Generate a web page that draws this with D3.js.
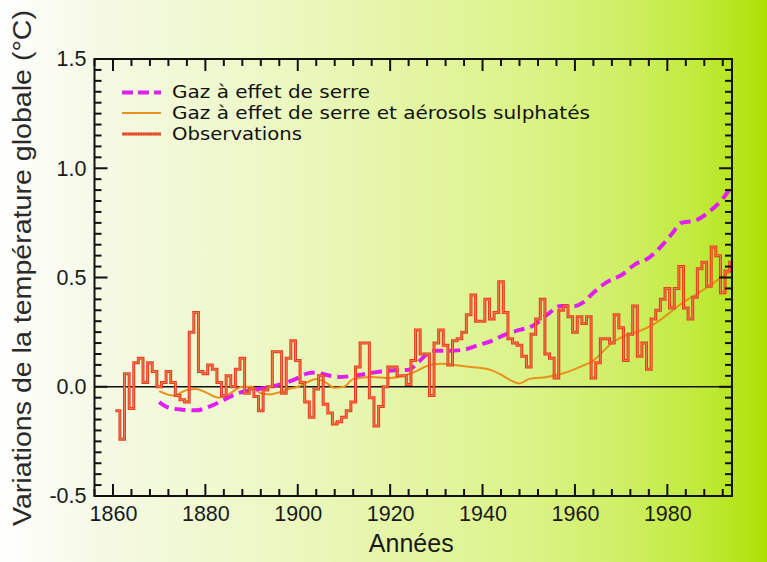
<!DOCTYPE html>
<html>
<head>
<meta charset="utf-8">
<script src="https://cdn.jsdelivr.net/npm/d3@7"></script>
<style>
  html, body { margin: 0; padding: 0; background: #ffffff; }
  svg { display: block; }
</style>
</head>
<body>
<svg id="chart" width="767" height="562"></svg>
<script>
// Global temperature change since 1861: observed annual anomalies and two model runs.

// Observed annual anomalies (°C), one value per year from 1861 to 1994
const obsYears = d3.range(1861, 1995);
const obsValues = [
  -0.11, -0.24, 0.06, -0.10, 0.11, 0.13, 0.02, 0.11, 0.07, 0.00,   // 1861-1870
   0.02, 0.07, 0.02, -0.04, -0.06, -0.07, 0.25, 0.34, 0.07, 0.06,  // 1871-1880
   0.10, 0.08, 0.02, -0.04, 0.05, 0.00, 0.08, 0.13, -0.03, -0.01,  // 1881-1890
  -0.045, -0.11, -0.015, 0.00, 0.16, 0.16, -0.03, 0.13, 0.21, 0.12, // 1891-1900
   0.02, -0.07, -0.14, -0.01, 0.05, -0.08, -0.12, -0.17, -0.16, -0.14, // 1901-1910
  -0.11, -0.07, 0.09, 0.20, 0.20, -0.05, -0.18, -0.09, 0.00, 0.09, // 1911-1920
   0.09, 0.05, 0.05, 0.01, 0.12, 0.26, 0.15, 0.15, -0.04, 0.20,    // 1921-1930
   0.26, 0.19, 0.10, 0.21, 0.22, 0.25, 0.33, 0.42, 0.30, 0.30,     // 1931-1940
   0.40, 0.31, 0.34, 0.48, 0.34, 0.22, 0.20, 0.19, 0.14, 0.09,     // 1941-1950
   0.24, 0.31, 0.40, 0.15, 0.13, 0.04, 0.35, 0.37, 0.32, 0.25,     // 1951-1960
   0.32, 0.29, 0.32, 0.04, 0.11, 0.22, 0.22, 0.20, 0.33, 0.27,     // 1961-1970
   0.12, 0.24, 0.37, 0.14, 0.20, 0.08, 0.31, 0.35, 0.40, 0.45,     // 1971-1980
   0.36, 0.45, 0.55, 0.36, 0.31, 0.41, 0.54, 0.57, 0.46, 0.64,     // 1981-1990
   0.60, 0.43, 0.53, 0.57                                          // 1991-1994
];

// Model: greenhouse gases only
const ghgYears  = [1870, 1872, 1875, 1878, 1881, 1884, 1887, 1890, 1893, 1896, 1899, 1902, 1904, 1906, 1909,
                   1912, 1915, 1918, 1921, 1924, 1926, 1928, 1930, 1933, 1936, 1939, 1942, 1945, 1948, 1951,
                   1954, 1957, 1960, 1962, 1964, 1967, 1970, 1973, 1976, 1979, 1981, 1983, 1986, 1989, 1992, 1994];
const ghgValues = [-0.07, -0.095, -0.105, -0.108, -0.09, -0.06, -0.03, -0.015, -0.005, 0.01, 0.03, 0.06, 0.065, 0.055, 0.045,
                   0.05, 0.06, 0.07, 0.075, 0.078, 0.11, 0.15, 0.165, 0.165, 0.17, 0.19, 0.21, 0.24, 0.26, 0.28,
                   0.33, 0.37, 0.37, 0.39, 0.43, 0.48, 0.51, 0.56, 0.59, 0.65, 0.70, 0.75, 0.76, 0.80, 0.86, 0.92];

// Model: greenhouse gases and sulphate aerosols
const aerYears  = [1870, 1873, 1876, 1878, 1880, 1883, 1885, 1888, 1890, 1892, 1894, 1896, 1898, 1900, 1902,
                   1904, 1906, 1908, 1910, 1912, 1916, 1920, 1923, 1925, 1928, 1931, 1934, 1937, 1940, 1942,
                   1944, 1946, 1948, 1950, 1954, 1958, 1961, 1964, 1966, 1968, 1971, 1974, 1977, 1980, 1983,
                   1986, 1989, 1991, 1994];
const aerValues = [-0.02, -0.04, -0.015, -0.01, -0.025, -0.05, -0.035, 0.0, 0.0, -0.03, -0.035, -0.025, -0.01, 0.0, 0.02,
                   0.035, 0.02, -0.005, 0.0, 0.035, 0.045, 0.04, 0.05, 0.065, 0.095, 0.105, 0.10, 0.092, 0.085, 0.075,
                   0.055, 0.03, 0.015, 0.035, 0.045, 0.065, 0.09, 0.12, 0.16, 0.20, 0.235, 0.255, 0.285, 0.33, 0.38,
                   0.42, 0.46, 0.49, 0.53];

// Axis ticks and labels
const xMajorTicks = [1860, 1880, 1900, 1920, 1940, 1960, 1980];
const xMinorTicks = [1856, 1864, 1868, 1872, 1876, 1884, 1888, 1892, 1896, 1904, 1908, 1912, 1916,
                     1924, 1928, 1932, 1936, 1944, 1948, 1952, 1956, 1964, 1968, 1972, 1976, 1984, 1988, 1992];
const yMajorTicks = [-0.5, 0.0, 0.5, 1.0, 1.5];
const yMinorTicks = [-0.45, -0.4, -0.35, -0.3, -0.25, -0.2, -0.15, -0.1, -0.05,
                     0.05, 0.1, 0.15, 0.2, 0.25, 0.3, 0.35, 0.4, 0.45,
                     0.55, 0.6, 0.65, 0.7, 0.75, 0.8, 0.85, 0.9, 0.95,
                     1.05, 1.1, 1.15, 1.2, 1.25, 1.3, 1.35, 1.4, 1.45];

const legendLabels = ["Gaz à effet de serre", "Gaz à effet de serre et aérosols sulphatés", "Observations"];
const xTitle = "Années";
const yTitle = "Variations de la température globale (°C)";

const colors = { ghg: "#e01ef2", aer: "#e8921c", obs: "#e63c1c", obsInner: "#f59a6c" };

// ---------------------------------------------------------------------
const W = 767, H = 562;
const P = { left: 94.5, right: 732, top: 59, bottom: 496 };

const svg = d3.select("#chart");
const defs = svg.append("defs");

// Pale-to-lime backdrop
const grad = defs.append("linearGradient").attr("id", "bg").attr("x1", 0).attr("x2", 1).attr("y1", 0).attr("y2", 0);
[[0, "#ffffff"], [0.13, "#f5f9e5"], [0.33, "#eef8c8"], [0.52, "#e4f5a6"], [0.68, "#dcf38a"],
 [0.81, "#cfef66"], [0.91, "#c1ea3c"], [0.97, "#b4e418"], [1, "#addf00"]]
  .forEach(([o, c]) => grad.append("stop").attr("offset", o).attr("stop-color", c));
svg.append("rect").attr("width", W).attr("height", H).attr("fill", "url(#bg)");

defs.append("clipPath").attr("id", "plotClip")
  .append("rect").attr("x", P.left).attr("y", P.top)
  .attr("width", P.right - P.left).attr("height", P.bottom - P.top);

const x = d3.scaleLinear().domain([1856, 1994]).range([P.left, P.right]);
const y = d3.scaleLinear().domain([-0.5, 1.5]).range([P.bottom, P.top]);

const tickFont = "'Liberation Sans', Arial, sans-serif";
const ink = "#111111";

// Tick labels
const hyphenFmt = d => d3.format(".1f")(d).replace("−", "-");
const xLab = svg.append("g").attr("transform", `translate(0,${P.bottom})`)
  .call(d3.axisBottom(x).tickValues(xMajorTicks).tickSize(0).tickPadding(10).tickFormat(d3.format("d")));
xLab.select(".domain").remove();
xLab.selectAll("text").attr("font-family", tickFont).attr("font-size", 21.5).attr("fill", "#1a1a1a");

const yLab = svg.append("g").attr("transform", `translate(${P.left},0)`)
  .call(d3.axisLeft(y).tickValues(yMajorTicks).tickSize(0).tickPadding(8).tickFormat(hyphenFmt));
yLab.select(".domain").remove();
yLab.selectAll("text").attr("font-family", tickFont).attr("font-size", 21.5).attr("fill", "#1a1a1a");

// Axis titles
svg.append("text").attr("x", (P.left + P.right) / 2 - 2).attr("y", 552)
  .attr("text-anchor", "middle").attr("font-family", tickFont).attr("font-size", 25)
  .attr("fill", "#1a1a1a").text(xTitle);
svg.append("text").attr("transform", "translate(31,268) rotate(-90)")
  .attr("text-anchor", "middle").attr("font-family", tickFont).attr("font-size", 25)
  .attr("textLength", 516).attr("lengthAdjust", "spacingAndGlyphs")
  .attr("fill", "#2a2a2a").text(yTitle);

// Plot contents
const plot = svg.append("g").attr("clip-path", "url(#plotClip)");

// zero reference line
plot.append("line").attr("x1", P.left).attr("x2", P.right)
  .attr("y1", y(0)).attr("y2", y(0)).attr("stroke", ink).attr("stroke-width", 1.6);

const smooth = d3.line().x(d => x(d[0])).y(d => y(d[1])).curve(d3.curveMonotoneX);

// greenhouse + aerosols
plot.append("path").datum(d3.zip(aerYears, aerValues))
  .attr("d", smooth).attr("fill", "none").attr("stroke", colors.aer).attr("stroke-width", 2);

// greenhouse only, dashed
plot.append("path").datum(d3.zip(ghgYears, ghgValues))
  .attr("d", smooth).attr("fill", "none").attr("stroke", colors.ghg)
  .attr("stroke-width", 4).attr("stroke-dasharray", "11,6");

// observations as annual steps, each year spanning year-0.5 .. year+0.5
const stepPts = [];
obsYears.forEach((yr, i) => { stepPts.push([yr - 0.5, obsValues[i]], [yr + 0.5, obsValues[i]]); });
const stepLine = d3.line().x(d => x(d[0])).y(d => y(d[1]));
plot.append("path").datum(stepPts).attr("d", stepLine).attr("fill", "none")
  .attr("stroke", colors.obs).attr("stroke-width", 3).attr("stroke-linejoin", "miter");
plot.append("path").datum(stepPts).attr("d", stepLine).attr("fill", "none")
  .attr("stroke", colors.obsInner).attr("stroke-width", 0.9).attr("stroke-opacity", 0.8);

// Frame
svg.append("rect").attr("x", P.left).attr("y", P.top)
  .attr("width", P.right - P.left).attr("height", P.bottom - P.top)
  .attr("fill", "none").attr("stroke", ink).attr("stroke-width", 2);

// Inward tick marks on all four sides
const tickLayer = svg.append("g").attr("stroke", ink).attr("stroke-width", 2);
function xTickMarks(values, len) {
  tickLayer.selectAll(null).data(values).enter().append("line")
    .attr("x1", d => x(d)).attr("x2", d => x(d)).attr("y1", P.bottom).attr("y2", P.bottom - len);
  tickLayer.selectAll(null).data(values).enter().append("line")
    .attr("x1", d => x(d)).attr("x2", d => x(d)).attr("y1", P.top).attr("y2", P.top + len);
}
function yTickMarks(values, len) {
  tickLayer.selectAll(null).data(values).enter().append("line")
    .attr("y1", d => y(d)).attr("y2", d => y(d)).attr("x1", P.left).attr("x2", P.left + len);
  tickLayer.selectAll(null).data(values).enter().append("line")
    .attr("y1", d => y(d)).attr("y2", d => y(d)).attr("x1", P.right).attr("x2", P.right - len);
}
xTickMarks(xMinorTicks, 7);
xTickMarks(xMajorTicks, 12);
yTickMarks(yMinorTicks, 7);
yTickMarks(yMajorTicks, 13);

// Legend
const legendFont = "'DejaVu Sans', Verdana, sans-serif";
const legendRows = [
  { label: legendLabels[0], ly: 92.5, ty: 98, len: 198, style: s => s.attr("stroke", colors.ghg).attr("stroke-width", 4).attr("stroke-dasharray", "11,5") },
  { label: legendLabels[1], ly: 113, ty: 119, len: 418, style: s => s.attr("stroke", colors.aer).attr("stroke-width", 2) },
  { label: legendLabels[2], ly: 134, ty: 140, len: 130, style: s => s.attr("stroke", colors.obs).attr("stroke-width", 3) }
];
const leg = svg.append("g");
legendRows.forEach(r => {
  r.style(leg.append("line").attr("x1", 122).attr("x2", 161).attr("y1", r.ly).attr("y2", r.ly));
  if (r.label === legendLabels[2]) {
    leg.append("line").attr("x1", 122).attr("x2", 161).attr("y1", r.ly).attr("y2", r.ly)
      .attr("stroke", colors.obsInner).attr("stroke-width", 1).attr("stroke-dasharray", "1,1.5");
  }
  leg.append("text").attr("x", 172).attr("y", r.ty)
    .attr("font-family", legendFont).attr("font-size", 18.5)
    .attr("textLength", r.len).attr("lengthAdjust", "spacingAndGlyphs")
    .attr("fill", "#111").text(r.label);
});
</script>
</body>
</html>
